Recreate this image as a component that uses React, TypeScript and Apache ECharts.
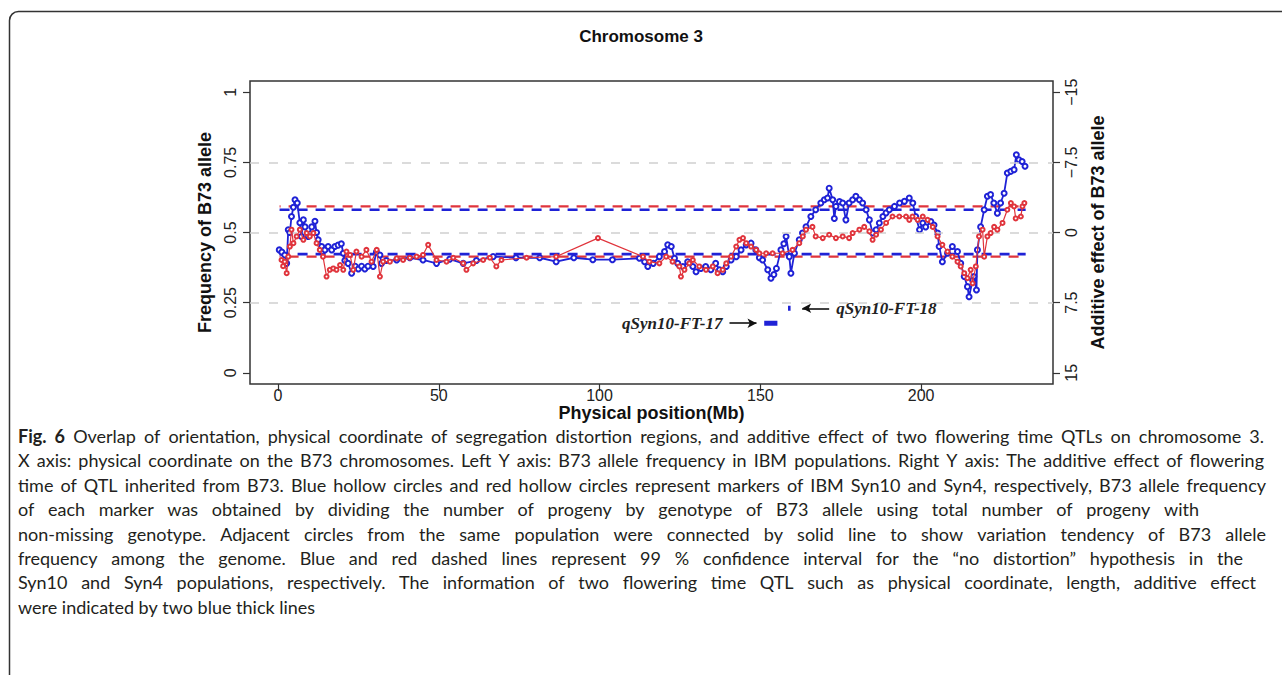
import React, { useEffect, useRef } from "react";
import * as echarts from "echarts";

const chartTitle = "Chromosome 3";
const xName = "Physical position(Mb)";
const yLeftName = "Frequency of B73 allele";
const yRightName = "Additive effect of B73 allele";
const xTicks = [0, 50, 100, 150, 200];
const freqTicks = [0, 0.25, 0.5, 0.75, 1];
const effectTicks = [-15, -7.5, 0, 7.5, 15];
const gridFreqs = [0.25, 0.5, 0.75];

// Syn10 (blue) markers: [position Mb, B73 allele frequency]
const syn10 = [
  [0.4, 0.438], [1.2, 0.43], [2.1, 0.42], [2.7, 0.39], [3.2, 0.51], [3.7, 0.5], [4.2, 0.557], [4.8, 0.59],
  [5.3, 0.617], [6.0, 0.605], [6.8, 0.535], [7.3, 0.486], [7.9, 0.545], [8.4, 0.52], [9.4, 0.486], [10.5, 0.52],
  [11.5, 0.54], [12.0, 0.5], [12.5, 0.474], [13.6, 0.45], [14.6, 0.438], [15.6, 0.45], [16.7, 0.438], [17.7, 0.45],
  [18.7, 0.455], [19.7, 0.46], [20.3, 0.426], [20.8, 0.4], [21.8, 0.39], [22.9, 0.355], [24.0, 0.38], [25.0, 0.37],
  [26.0, 0.38], [27.0, 0.37], [28.0, 0.38], [29.6, 0.379], [30.6, 0.43], [31.7, 0.42], [32.2, 0.39], [33.7, 0.4],
  [36.9, 0.402], [41.0, 0.41], [45.1, 0.402], [49.3, 0.39], [53.4, 0.405], [57.6, 0.39], [61.7, 0.4], [66.9, 0.414],
  [74.0, 0.41], [81.4, 0.41], [86.5, 0.396], [92.0, 0.41], [97.9, 0.403], [104.0, 0.403], [112.4, 0.408], [114.0, 0.396],
  [115.0, 0.379], [116.7, 0.39], [118.6, 0.414], [120.2, 0.432], [121.2, 0.456], [122.3, 0.45], [123.3, 0.408], [124.3, 0.39],
  [125.9, 0.379], [127.4, 0.396], [129.0, 0.379], [130.0, 0.36], [131.5, 0.372], [133.0, 0.379], [134.6, 0.367], [136.1, 0.39],
  [137.3, 0.367], [138.3, 0.36], [139.4, 0.379], [140.9, 0.402], [142.5, 0.414], [144.0, 0.438], [145.6, 0.456], [147.1, 0.462],
  [148.6, 0.438], [149.7, 0.41], [150.7, 0.402], [152.3, 0.367], [153.3, 0.337], [154.2, 0.35], [155.0, 0.372], [156.4, 0.438],
  [157.3, 0.46], [158.0, 0.486], [159.0, 0.414], [159.5, 0.355], [160.6, 0.426], [162.1, 0.474], [163.1, 0.498], [164.2, 0.52],
  [165.7, 0.557], [167.2, 0.581], [168.8, 0.605], [169.9, 0.617], [170.9, 0.623], [171.4, 0.658], [172.5, 0.617], [173.0, 0.55],
  [173.5, 0.593], [174.6, 0.61], [175.6, 0.605], [176.6, 0.545], [177.6, 0.605], [178.7, 0.617], [179.7, 0.629], [180.8, 0.617],
  [181.8, 0.605], [182.9, 0.581], [183.9, 0.545], [184.9, 0.498], [186.0, 0.51], [187.0, 0.534], [188.1, 0.557], [189.1, 0.57],
  [190.1, 0.581], [191.7, 0.593], [193.3, 0.605], [194.8, 0.611], [196.3, 0.623], [197.4, 0.605], [198.3, 0.557], [199.5, 0.51],
  [200.5, 0.534], [201.4, 0.52], [203.0, 0.539], [204.0, 0.527], [205.1, 0.498], [205.6, 0.45], [206.6, 0.396], [208.2, 0.426],
  [209.7, 0.45], [211.3, 0.432], [212.3, 0.39], [213.4, 0.343], [214.4, 0.307], [214.9, 0.271], [216.0, 0.33], [216.4, 0.343],
  [217.2, 0.295], [217.5, 0.438], [218.5, 0.52], [219.6, 0.581], [220.6, 0.629], [221.6, 0.635], [222.6, 0.605], [223.7, 0.569],
  [224.7, 0.605], [225.8, 0.64], [226.8, 0.712], [227.9, 0.718], [228.9, 0.724], [229.6, 0.777], [230.4, 0.759], [231.4, 0.753],
  [232.3, 0.736],
];

// Syn4 (red) markers: [position Mb, B73 allele frequency]
const syn4 = [
  [1.1, 0.402], [1.6, 0.38], [2.1, 0.396], [2.7, 0.355], [3.2, 0.414], [3.7, 0.45], [4.2, 0.51], [4.8, 0.462],
  [5.8, 0.486], [6.8, 0.51], [7.9, 0.474], [8.9, 0.498], [9.9, 0.486], [11.0, 0.498], [12.0, 0.462], [13.0, 0.438],
  [14.0, 0.414], [15.1, 0.343], [16.1, 0.367], [17.2, 0.372], [18.2, 0.367], [19.3, 0.384], [20.3, 0.367], [21.3, 0.432],
  [22.4, 0.42], [23.4, 0.367], [24.4, 0.432], [26.0, 0.414], [27.5, 0.438], [29.1, 0.396], [30.7, 0.438], [31.7, 0.343],
  [32.7, 0.396], [34.8, 0.396], [36.9, 0.408], [38.9, 0.402], [41.0, 0.41], [43.1, 0.414], [45.1, 0.42], [46.7, 0.456],
  [49.3, 0.402], [52.4, 0.396], [54.5, 0.41], [57.6, 0.39], [58.6, 0.367], [60.7, 0.39], [63.8, 0.402], [65.9, 0.41],
  [67.9, 0.379], [69.5, 0.402], [77.3, 0.41], [86.5, 0.414], [99.5, 0.48], [113.5, 0.414], [115.5, 0.396], [118.6, 0.39],
  [120.7, 0.414], [122.7, 0.396], [124.8, 0.379], [125.3, 0.343], [126.4, 0.367], [127.9, 0.39], [129.0, 0.402], [131.0, 0.379],
  [133.1, 0.367], [135.2, 0.379], [136.7, 0.355], [138.3, 0.367], [139.4, 0.39], [140.9, 0.414], [142.5, 0.45], [143.5, 0.474],
  [144.6, 0.48], [145.6, 0.462], [147.1, 0.45], [148.7, 0.438], [149.7, 0.426], [151.8, 0.426], [153.8, 0.426], [156.9, 0.426],
  [160.0, 0.438], [162.1, 0.462], [163.2, 0.486], [164.2, 0.51], [166.2, 0.52], [167.2, 0.486], [169.4, 0.48], [171.4, 0.492],
  [173.5, 0.48], [175.6, 0.486], [177.6, 0.48], [178.7, 0.498], [180.8, 0.51], [182.3, 0.52], [183.9, 0.504], [184.9, 0.474],
  [186.0, 0.492], [187.5, 0.51], [189.1, 0.534], [191.1, 0.557], [193.2, 0.557], [195.3, 0.557], [196.3, 0.545], [197.3, 0.557],
  [198.9, 0.545], [200.5, 0.557], [202.0, 0.545], [203.6, 0.52], [205.1, 0.486], [206.6, 0.456], [208.2, 0.432], [209.7, 0.414],
  [211.3, 0.396], [212.3, 0.379], [213.4, 0.355], [214.4, 0.337], [215.4, 0.367], [216.0, 0.319], [217.0, 0.379], [218.0, 0.486],
  [219.1, 0.51], [219.6, 0.414], [220.6, 0.486], [221.6, 0.498], [222.7, 0.52], [223.7, 0.51], [225.3, 0.534], [226.8, 0.581],
  [227.9, 0.605], [228.9, 0.593], [229.4, 0.55], [231.0, 0.557], [231.5, 0.593], [232.1, 0.605],
];

// 99% confidence limits (frequency) spanning the chromosome
const ciSpan = [0.5, 232.5];
const syn10CI = [0.423, 0.581];
const syn4CI = [0.414, 0.593];

// QTL: name, start Mb, end Mb, additive effect, arrow tail Mb, arrow head Mb
const qtlNames = ["qSyn10-FT-17", "qSyn10-FT-18"];
const qtlStart = [151.2, 158.6];
const qtlEnd = [155.3, 159.4];
const qtlEffect = [9.7, 8.1];
const qtlArrowTail = [140.4, 171.4];
const qtlArrowHead = [148.8, 163.0];

const captionLines = [
  "Fig. 6 Overlap of orientation, physical coordinate of segregation distortion regions, and additive effect of two flowering time QTLs on chromosome 3.",
  "X axis: physical coordinate on the B73 chromosomes. Left Y axis: B73 allele frequency in IBM populations. Right Y axis: The additive effect of flowering",
  "time of QTL inherited from B73. Blue hollow circles and red hollow circles represent markers of IBM Syn10 and Syn4, respectively, B73 allele frequency",
  "of each marker was obtained by dividing the number of progeny by genotype of B73 allele using total number of progeny with",
  "non-missing genotype. Adjacent circles from the same population were connected by solid line to show variation tendency of B73 allele",
  "frequency among the genome. Blue and red dashed lines represent 99 % confidence interval for the \u201cno distortion\u201d hypothesis in the",
  "Syn10 and Syn4 populations, respectively. The information of two flowering time QTL such as physical coordinate, length, additive effect",
  "were indicated by two blue thick lines",
];
// right edge each caption line is justified to (null = not justified)
const captionRight = [1264, 1264, 1266, 1199, 1266, 1243, 1256, null];

const BLUE = "#1f22d6";
const RED = "#e0343c";
const SANS = "Liberation Sans, Arial, sans-serif";
const CAP_FAMILY = "Lato";
const CAP_SIZE = 18;

export default function App() {
  const ref = useRef<HTMLDivElement>(null);
  useEffect(() => {
    if (!ref.current) return;
    const chart = echarts.init(ref.current, null, { renderer: "svg" });

    const ctx = document.createElement("canvas").getContext("2d")!;
    const measure = (t: string, bold: boolean) => {
      ctx.font = `${bold ? "bold " : ""}${CAP_SIZE}px ${CAP_FAMILY}`;
      return ctx.measureText(t).width;
    };

    const caption: any[] = [];
    captionLines.forEach((line, li) => {
      const y = 436 + li * 24.4;
      const words = line.split(" ");
      const bolds = words.map((w, wi) => li === 0 && wi < 2);
      const widths = words.map((w, wi) => measure(w, bolds[wi]));
      const right = captionRight[li];
      let gap = measure(" ", false);
      if (right != null && words.length > 1) {
        const total = widths.reduce((a, b) => a + b, 0);
        gap = (right - 18 - total) / (words.length - 1);
      }
      let x = 18;
      words.forEach((w, wi) => {
        caption.push({
          type: "text",
          x,
          y,
          silent: true,
          style: {
            text: w,
            fontFamily: CAP_FAMILY,
            fontSize: CAP_SIZE,
            fontWeight: bolds[wi] ? "bold" : "normal",
            fill: "#231f20",
            verticalAlign: "middle",
          },
          z: 10,
        });
        x += widths[wi] + gap;
      });
    });

    const ciSeries = (y: number, color: string, width: number, offset: number) => ({
      type: "line",
      data: [[ciSpan[0], y], [ciSpan[1], y]],
      symbol: "none",
      silent: true,
      lineStyle: { color, width, type: [10, 8], dashOffset: offset },
      z: 3,
    });

    const qtlSeries = qtlNames.map((name, i) => ({
      type: "line",
      name,
      yAxisIndex: 1,
      data: [[qtlStart[i], qtlEffect[i]], [qtlEnd[i], qtlEffect[i]]],
      symbol: "none",
      lineStyle: { color: BLUE, width: 5 },
      z: 6,
      markLine: {
        silent: true,
        symbol: ["none", "arrow"],
        symbolSize: [7, 9],
        lineStyle: { color: "#111", width: 1.6, type: "solid" },
        label: {
          show: true,
          position: "start",
          distance: 7,
          formatter: name,
          fontFamily: "Liberation Serif, 'DejaVu Serif', serif",
          fontStyle: "italic",
          fontWeight: "bold",
          fontSize: 17,
          color: "#222",
        },
        emphasis: { disabled: true },
        data: [[{ coord: [qtlArrowTail[i], qtlEffect[i]] }, { coord: [qtlArrowHead[i], qtlEffect[i]] }]],
      },
    }));

    const tickStyle = { show: true, length: 7, lineStyle: { color: "#333", width: 1.2 } };
    const nameStyle = { fontFamily: SANS, fontWeight: "bold", fontSize: 18, color: "#111" };

    const option: any = {
      animation: false,
      backgroundColor: "#ffffff",
      title: {
        text: chartTitle,
        left: "center",
        top: 23,
        textStyle: { fontFamily: SANS, fontWeight: "bold", fontSize: 17, color: "#111" },
      },
      grid: {
        left: 250,
        top: 81,
        width: 803,
        height: 303,
        show: true,
        borderColor: "#333",
        borderWidth: 1.5,
        backgroundColor: "transparent",
      },
      xAxis: {
        type: "value",
        min: -8.7,
        max: 241,
        name: xName,
        nameLocation: "middle",
        nameGap: 19,
        nameTextStyle: nameStyle,
        axisLine: { show: false, onZero: false },
        splitLine: { show: false },
        axisTick: { ...tickStyle, customValues: xTicks },
        axisLabel: { customValues: xTicks, fontFamily: SANS, fontSize: 16, color: "#222", margin: 3 },
      },
      yAxis: [
        {
          type: "value",
          min: -0.04,
          max: 1.04,
          position: "left",
          name: yLeftName,
          nameLocation: "middle",
          nameRotate: 90,
          nameGap: 36,
          nameTextStyle: nameStyle,
          axisLine: { show: false, onZero: false },
          splitLine: { show: false },
          axisTick: { ...tickStyle, customValues: freqTicks },
          axisLabel: {
            customValues: freqTicks,
            rotate: 90,
            fontFamily: SANS,
            fontSize: 16,
            color: "#222",
            margin: 12,
            formatter: (v: number) => String(v),
          },
        },
        {
          type: "value",
          min: -16.2,
          max: 16.2,
          inverse: true,
          position: "right",
          name: yRightName,
          nameLocation: "middle",
          nameRotate: 90,
          nameGap: 36,
          nameTextStyle: nameStyle,
          axisLine: { show: false, onZero: false },
          splitLine: { show: false },
          axisTick: { ...tickStyle, customValues: effectTicks },
          axisLabel: {
            customValues: effectTicks,
            rotate: 90,
            fontFamily: SANS,
            fontSize: 16,
            color: "#222",
            margin: 10,
            formatter: (v: number) => (v < 0 ? "\u2212" + Math.abs(v) : String(v)),
          },
        },
      ],
      series: [
        {
          type: "line",
          data: [],
          silent: true,
          markLine: {
            silent: true,
            symbol: "none",
            label: { show: false },
            lineStyle: { color: "#cfcfcf", width: 1.5, type: [9, 10] },
            data: gridFreqs.map((f) => ({ yAxis: f })),
          },
          z: 1,
        },
        ciSeries(syn4CI[1], RED, 2.2, 9),
        ciSeries(syn4CI[0], RED, 2.2, 9),
        ciSeries(syn10CI[1], BLUE, 2.6, 0),
        ciSeries(syn10CI[0], BLUE, 2.6, 0),
        {
          type: "line",
          name: "Syn10",
          data: syn10,
          symbol: "emptyCircle",
          symbolSize: 5,
          showAllSymbol: true,
          lineStyle: { color: BLUE, width: 1.8 },
          itemStyle: { color: BLUE, borderColor: BLUE, borderWidth: 1.8 },
          z: 4,
        },
        {
          type: "line",
          name: "Syn4",
          data: syn4,
          symbol: "emptyCircle",
          symbolSize: 4,
          showAllSymbol: true,
          lineStyle: { color: RED, width: 1.2 },
          itemStyle: { color: RED, borderColor: RED, borderWidth: 1.1 },
          z: 5,
        },
        ...qtlSeries,
      ],
      graphic: [
        {
          type: "rect",
          shape: { x: 9.5, y: 11.5, width: 1300, height: 700, r: 9 },
          style: { fill: "none", stroke: "#333", lineWidth: 1.5 },
          silent: true,
          z: 10,
        },
        ...caption,
      ],
    };
    chart.setOption(option);
    return () => chart.dispose();
  }, []);
  return (
    <div
      ref={ref}
      style={{ position: "fixed", left: 0, top: 0, width: 1282, height: 675, background: "#fff" }}
    />
  );
}
